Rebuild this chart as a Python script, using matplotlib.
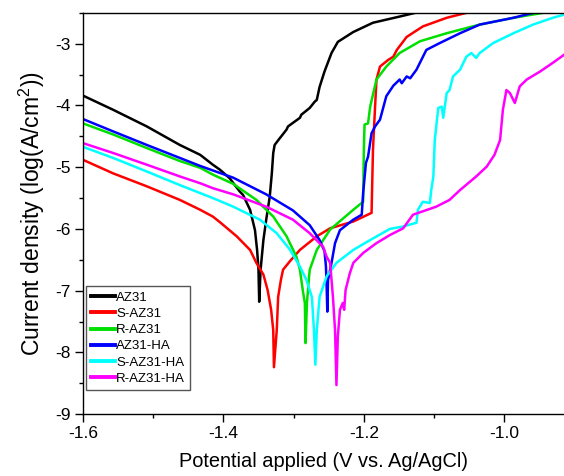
import matplotlib
matplotlib.use("Agg")
import matplotlib.pyplot as plt
from matplotlib.ticker import MultipleLocator, FormatStrFormatter

plt.rcParams['font.family'] = ['Liberation Sans', 'DejaVu Sans']
plt.rcParams['axes.unicode_minus'] = False
plt.rcParams['mathtext.fontset'] = 'custom'
plt.rcParams['mathtext.rm'] = 'Liberation Sans'

# Tafel curves: potential (V) and log current density
az31_x = [-1.600, -1.557, -1.509, -1.462, -1.433, -1.415, -1.405, -1.391, -1.377,
          -1.372, -1.362, -1.355, -1.352, -1.350, -1.349, -1.347, -1.343, -1.339,
          -1.334, -1.331, -1.329, -1.327, -1.321, -1.310, -1.308, -1.291, -1.289,
          -1.277, -1.270, -1.267, -1.263, -1.256, -1.246, -1.237, -1.215, -1.187,
          -1.149, -1.127]
az31_y = [-3.84, -4.07, -4.34, -4.64, -4.80, -4.96, -5.04, -5.18, -5.39,
          -5.45, -5.69, -6.02, -6.34, -6.66, -7.18, -6.66, -6.18, -5.85,
          -5.48, -5.10, -4.77, -4.64, -4.55, -4.39, -4.34, -4.20, -4.15,
          -4.04, -3.94, -3.91, -3.70, -3.45, -3.15, -2.97, -2.81, -2.66,
          -2.56, -2.50]

s_az31_x = [-1.600, -1.557, -1.509, -1.462, -1.433, -1.415, -1.405, -1.381, -1.362,
            -1.353, -1.343, -1.337, -1.332, -1.329, -1.328, -1.324, -1.322, -1.318,
            -1.315, -1.305, -1.291, -1.267, -1.248, -1.215, -1.189, -1.187, -1.184,
            -1.182, -1.177, -1.165, -1.158, -1.153, -1.139, -1.116, -1.082, -1.054]
s_az31_y = [-4.88, -5.10, -5.31, -5.53, -5.69, -5.80, -5.89, -6.12, -6.34,
            -6.55, -6.74, -6.99, -7.31, -7.64, -8.24, -7.64, -7.10, -6.82,
            -6.66, -6.52, -6.34, -6.12, -5.99, -5.88, -5.74, -4.72, -4.02,
            -3.58, -3.37, -3.26, -3.21, -3.10, -2.89, -2.72, -2.58, -2.50]

r_az31_x = [-1.600, -1.557, -1.509, -1.462, -1.433, -1.415, -1.386, -1.353, -1.329,
            -1.310, -1.296, -1.291, -1.287, -1.284, -1.283, -1.281, -1.278, -1.277,
            -1.267, -1.248, -1.215, -1.201, -1.200, -1.199, -1.194, -1.191, -1.182,
            -1.168, -1.149, -1.120, -1.082, -1.035, -0.987, -0.945]
r_az31_y = [-4.29, -4.47, -4.69, -4.90, -5.01, -5.12, -5.27, -5.53, -5.80,
            -6.12, -6.45, -6.66, -6.99, -7.20, -7.85, -7.20, -6.77, -6.66,
            -6.34, -6.01, -5.69, -5.56, -4.72, -4.31, -4.29, -4.02, -3.58,
            -3.37, -3.15, -2.96, -2.83, -2.69, -2.58, -2.50]

az31_ha_x = [-1.600, -1.557, -1.509, -1.462, -1.433, -1.386, -1.339, -1.301, -1.277,
             -1.263, -1.256, -1.254, -1.253, -1.252, -1.251, -1.246, -1.241, -1.234,
             -1.215, -1.203, -1.201, -1.197, -1.194, -1.189, -1.184, -1.177, -1.168,
             -1.158, -1.149, -1.146, -1.139, -1.134, -1.125, -1.111, -1.092, -1.063,
             -1.035, -0.987, -0.959]
az31_ha_y = [-4.22, -4.42, -4.64, -4.85, -4.98, -5.17, -5.44, -5.70, -5.94,
             -6.18, -6.36, -6.60, -6.90, -7.34, -6.83, -6.55, -6.23, -6.02,
             -5.85, -5.77, -5.42, -4.93, -4.83, -4.45, -4.34, -4.23, -3.85,
             -3.68, -3.58, -3.64, -3.53, -3.56, -3.42, -3.10, -2.99, -2.83,
             -2.69, -2.58, -2.50]

s_az31_ha_x = [-1.600, -1.557, -1.509, -1.462, -1.433, -1.415, -1.386, -1.348,
               -1.324, -1.305, -1.291, -1.282, -1.274, -1.271, -1.269, -1.267, -1.263,
               -1.253, -1.239, -1.215, -1.191, -1.163, -1.144, -1.125, -1.123, -1.116,
               -1.106, -1.104, -1.101, -1.099, -1.094, -1.089, -1.087, -1.082, -1.078,
               -1.073, -1.063, -1.054, -1.047, -1.040, -1.035, -1.016, -0.987, -0.959,
               -0.931, -0.915]
s_az31_ha_y = [-4.67, -4.85, -5.07, -5.29, -5.42, -5.50, -5.64, -5.85,
               -6.07, -6.34, -6.61, -6.82, -7.10, -7.64, -8.20, -7.64, -7.10,
               -6.77, -6.55, -6.34, -6.18, -6.00, -5.96, -5.90, -5.69, -5.56,
               -5.58, -5.37, -5.15, -4.56, -4.04, -4.02, -4.20, -3.80, -3.75,
               -3.53, -3.42, -3.21, -3.15, -3.23, -3.15, -2.99, -2.83, -2.69,
               -2.58, -2.53]

r_az31_ha_x = [-1.600, -1.557, -1.509, -1.462, -1.433, -1.415, -1.386, -1.339,
               -1.301, -1.277, -1.258, -1.253, -1.248, -1.244, -1.241, -1.239, -1.237,
               -1.234, -1.230, -1.228, -1.226, -1.220, -1.215, -1.201, -1.182, -1.163,
               -1.144, -1.130, -1.097, -1.078, -1.063, -1.040, -1.025, -1.014, -1.006,
               -1.002, -0.997, -0.992, -0.985, -0.978, -0.968, -0.949, -0.931, -0.915]
r_az31_ha_y = [-4.61, -4.77, -4.96, -5.15, -5.26, -5.34, -5.44, -5.64,
               -5.85, -6.07, -6.29, -6.45, -6.55, -7.10, -7.64, -8.53, -7.74,
               -7.31, -7.20, -7.31, -6.99, -6.72, -6.55, -6.39, -6.23, -6.10,
               -5.99, -5.77, -5.64, -5.53, -5.37, -5.15, -4.99, -4.80, -4.56,
               -4.07, -3.75, -3.80, -3.96, -3.69, -3.58, -3.45, -3.31, -3.18]

labels = ['AZ31', 'S-AZ31', 'R-AZ31', 'AZ31-HA', 'S-AZ31-HA', 'R-AZ31-HA']
colors = ['#000000', '#ff0000', '#00e000', '#0000ff', '#00ffff', '#ff00ff']
series = [(az31_x, az31_y), (s_az31_x, s_az31_y), (r_az31_x, r_az31_y),
          (az31_ha_x, az31_ha_y), (s_az31_ha_x, s_az31_ha_y), (r_az31_ha_x, r_az31_ha_y)]

fig = plt.figure(figsize=(5.64, 4.76), dpi=100)
ax = fig.add_axes([0.147, 0.130, 0.853, 0.843])

for (x, y), lab, c in zip(series, labels, colors):
    ax.plot(x, y, color=c, lw=1.8, label=lab)

ax.set_xlim(-1.6, -0.915)
ax.set_ylim(-9, -2.5)
ax.xaxis.set_major_locator(MultipleLocator(0.2))
ax.xaxis.set_minor_locator(MultipleLocator(0.1))
ax.xaxis.set_major_formatter(FormatStrFormatter('%.1f'))
ax.yaxis.set_major_locator(MultipleLocator(1))
ax.yaxis.set_minor_locator(MultipleLocator(0.5))
ax.tick_params(which='major', direction='out', length=5.5, width=1, labelsize=12.5, pad=3)
ax.tick_params(which='minor', direction='out', length=3, width=1)
ax.tick_params(top=False, right=False, which='both')
ax.spines['right'].set_visible(False)
for s in ax.spines.values():
    s.set_linewidth(1.0)

ax.set_xlabel('Potential applied (V vs. Ag/AgCl)', fontsize=14.4, labelpad=8)
ax.set_ylabel('Current density (log(A/cm$^2$))', fontsize=16.5, labelpad=6)

leg = ax.legend(loc='lower left', bbox_to_anchor=(0.006, 0.06), borderaxespad=0,
                fontsize=9.5, handlelength=1.8, handletextpad=0.1, labelspacing=0.3,
                fancybox=False, edgecolor='#555555', framealpha=1)
for h in leg.get_lines():
    h.set_linewidth(2.8)

fig.savefig('out.png', dpi=100)
